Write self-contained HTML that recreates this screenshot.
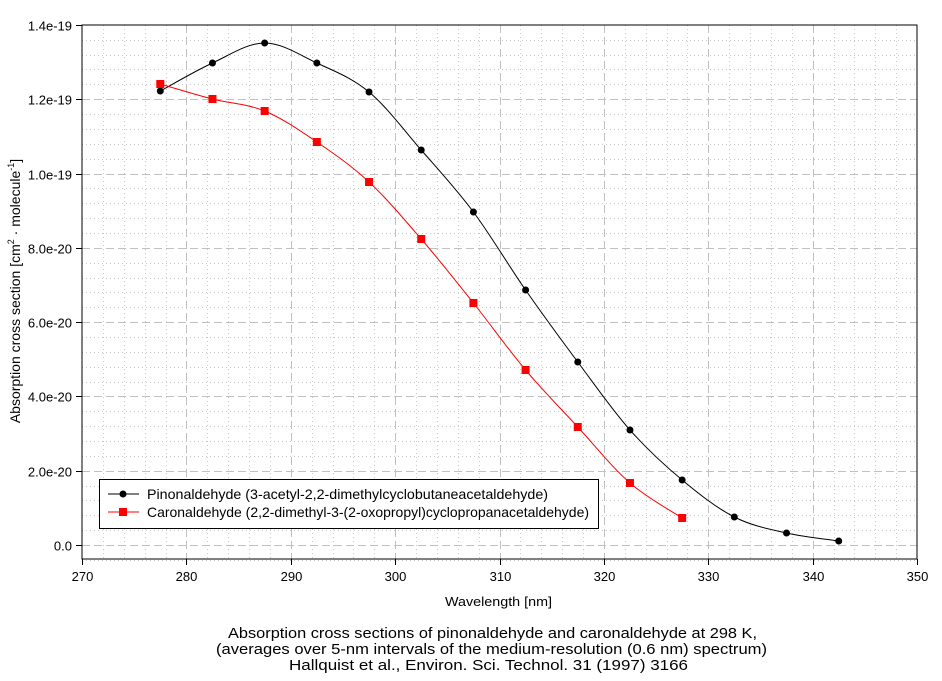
<!DOCTYPE html>
<html><head><meta charset="utf-8"><style>
html,body{margin:0;padding:0;background:#fff;}
svg{display:block;font-family:"Liberation Sans",Arial,sans-serif;}
</style></head><body>
<svg id="s" width="942" height="681" viewBox="0 0 942 681">
<g id="grid"></g>
<rect x="82" y="25" width="835" height="534" fill="none" stroke="#000" stroke-width="1"/>
<g id="ticks" font-size="13" fill="#000"></g>
<path id="p1" fill="none" stroke="#000" stroke-width="1"/>
<path id="p2" fill="none" stroke="#f00" stroke-width="1"/>
<g id="m"></g>
<rect x="99.5" y="479.5" width="499" height="49" fill="#fff" stroke="#000" stroke-width="1"/>
<line x1="108" y1="494" x2="139" y2="494" stroke="#000"/>
<circle cx="123" cy="494" r="3.5" fill="#000"/>
<text x="147" y="499" font-size="14" textLength="401" lengthAdjust="spacingAndGlyphs">Pinonaldehyde (3-acetyl-2,2-dimethylcyclobutaneacetaldehyde)</text>
<line x1="108" y1="512" x2="139" y2="512" stroke="#f00"/>
<rect x="119" y="508" width="8" height="8" fill="#f00"/>
<text x="147" y="517" font-size="14" textLength="442" lengthAdjust="spacingAndGlyphs">Caronaldehyde (2,2-dimethyl-3-(2-oxopropyl)cyclopropanacetaldehyde)</text>
<text transform="translate(20,291) rotate(-90)" text-anchor="middle" font-size="14">Absorption cross section [cm<tspan font-size="9" dy="-6">2</tspan><tspan dy="6"> · molecule</tspan><tspan font-size="9" dy="-6">-1</tspan><tspan dy="6">]</tspan></text>
<text x="445" y="606" font-size="13" textLength="107" lengthAdjust="spacingAndGlyphs">Wavelength [nm]</text>
<g font-size="15">
<text x="228" y="638" textLength="529" lengthAdjust="spacingAndGlyphs">Absorption cross sections of pinonaldehyde and caronaldehyde at 298 K,</text>
<text x="216" y="654" textLength="551" lengthAdjust="spacingAndGlyphs">(averages over 5-nm intervals of the medium-resolution (0.6 nm) spectrum)</text>
<text x="289" y="670" textLength="399" lengthAdjust="spacingAndGlyphs">Hallquist et al.,  Environ. Sci. Technol. 31 (1997) 3166</text>
</g>
</svg>
<script>
var NS="http://www.w3.org/2000/svg";
function el(p,t,a){var e=document.createElementNS(NS,t);for(var k in a)e.setAttribute(k,a[k]);p.appendChild(e);return e;}
var g=document.getElementById('grid'),tk=document.getElementById('ticks');
function X(w){return 82+(w-270)*10.4375;}
function Y(v){return 545-v*74.3/2;}
for(var w=272;w<350;w+=2){if(w%10==0)continue;var x=Math.round(X(w))+.5;el(g,'line',{x1:x,x2:x,y1:25,y2:559,stroke:'#c8c8c8','stroke-dasharray':'1,3'});}
for(var v=0.4;v<14;v+=0.4){if(Math.abs(v/2-Math.round(v/2))<0.01)continue;var y=Math.round(Y(v))+.5;el(g,'line',{x1:82,x2:917,y1:y,y2:y,stroke:'#c8c8c8','stroke-dasharray':'1,3'});}
var y=Math.round(Y(-0.4))+.5;el(g,'line',{x1:82,x2:917,y1:y,y2:y,stroke:'#c8c8c8','stroke-dasharray':'1,3'});
for(var w=280;w<350;w+=10){var x=Math.round(X(w))+.5;el(g,'line',{x1:x,x2:x,y1:25,y2:559,stroke:'#c0c0c0','stroke-dasharray':'8,4'});}
for(var v=0;v<14;v+=2){var y=Math.round(Y(v))+.5;el(g,'line',{x1:82,x2:917,y1:y,y2:y,stroke:'#c0c0c0','stroke-dasharray':'8,4'});}
var yl=['0.0','2.0e-20','4.0e-20','6.0e-20','8.0e-20','1.0e-19','1.2e-19','1.4e-19'];
for(var i=0;i<8;i++){var y=Math.round(Y(i*2))+.5;el(tk,'line',{x1:76,x2:82,y1:y,y2:y,stroke:'#000'});var t=el(tk,'text',{x:72,y:y+5,'text-anchor':'end'});t.textContent=yl[i];}
for(var w=270;w<=350;w+=10){var x=Math.round(X(w))+.5;el(tk,'line',{x1:x,x2:x,y1:559,y2:565,stroke:'#000'});var t=el(tk,'text',{x:x,y:581,'text-anchor':'middle'});t.textContent=w;}
var d1=[91,63,43,63,92,150,212,290,362,430,480,517,533,541];
var d2=[84,99,111,142,182,239,303,370,427,483,518];
function pts(d){return d.map(function(y,i){return [X(277.5+5*i),y];});}
function cr(P){var s='M'+P[0][0]+','+P[0][1];for(var i=0;i<P.length-1;i++){var p0=P[i-1]||P[i],p1=P[i],p2=P[i+1],p3=P[i+2]||P[i+1];
s+=' C'+(p1[0]+(p2[0]-p0[0])/6)+','+(p1[1]+(p2[1]-p0[1])/6)+' '+(p2[0]-(p3[0]-p1[0])/6)+','+(p2[1]-(p3[1]-p1[1])/6)+' '+p2[0]+','+p2[1];}return s;}
var P1=pts(d1),P2=pts(d2);
document.getElementById('p1').setAttribute('d',cr(P1));
document.getElementById('p2').setAttribute('d',cr(P2));
var m=document.getElementById('m');
P1.forEach(function(p){el(m,'circle',{cx:p[0],cy:p[1],r:3.5,fill:'#000'});});
P2.forEach(function(p){el(m,'rect',{x:p[0]-4,y:p[1]-4,width:8,height:8,fill:'#f00'});});
</script>
</body></html>
